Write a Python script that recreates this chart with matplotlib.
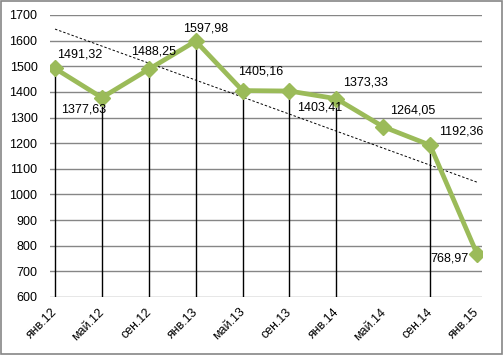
import matplotlib
matplotlib.use('Agg')
import matplotlib.pyplot as plt
import matplotlib.transforms as mtransforms
from matplotlib.patches import Rectangle
import numpy as np

plt.rcParams['font.family'] = ['Liberation Sans', 'DejaVu Sans']

months = ['янв.12', 'май.12', 'сен.12', 'янв.13', 'май.13',
          'сен.13', 'янв.14', 'май.14', 'сен.14', 'янв.15']
values = [1491.32, 1377.63, 1488.25, 1597.98, 1405.16,
          1403.41, 1373.33, 1264.05, 1192.36, 768.97]
labels = ['1491,32', '1377,63', '1488,25', '1597,98', '1405,16',
          '1403,41', '1373,33', '1264,05', '1192,36', '768,97']
# trend line values at first and last month
trend_ends = [1645, 1048]
# months that have a drop line in the original
has_drop = [True, True, True, True, True, True, True, False, True, False]

# label offsets in pixels (dx, dy)
offsets = [(25, 14), (-18, -12), (5, 18), (10, 13), (18, 19),
           (30, -16), (29, 16), (30, 16), (31, 14), (-27, -5)]

fig = plt.figure(figsize=(5.04, 3.55), dpi=100)
ax = fig.add_axes([0.0992, 0.1634, 0.858, 0.7944])

x = np.arange(len(months))

ax.set_ylim(600, 1700)
ax.set_xlim(-0.107, 9.117)
ax.set_yticks(np.arange(600, 1701, 100))
ax.yaxis.grid(True, color='#868686', linewidth=1)
ax.set_axisbelow(True)
for s in ax.spines.values():
    s.set_visible(False)

dx = [xi for xi, d in zip(x, has_drop) if d]
dv = [v for v, d in zip(values, has_drop) if d]
ax.vlines(dx, 600, dv, color='black', linewidth=1, zorder=2)

ax.plot([x[0], x[-1]], trend_ends, color='black', linewidth=0.7,
        linestyle=(0, (2.5, 2)), zorder=3)

ax.plot(x, values, color='#9BBB59', linewidth=3.4, marker='D', markersize=8.5,
        markerfacecolor='#9BBB59', markeredgecolor='#9BBB59', zorder=4)

for xi, v, lab, (ox, oy) in zip(x, values, labels, offsets):
    ax.annotate(lab, (xi, v), xytext=(ox, oy), textcoords='offset pixels',
                ha='center', va='center', fontsize=9, color='black', zorder=5)

ax.set_xticks(x)
ax.set_xticklabels(months, rotation=45, ha='right', va='top', fontsize=9)
ax.tick_params(axis='x', length=0, pad=5)
ax.tick_params(axis='y', length=0, pad=9, labelsize=9)
shift = mtransforms.ScaledTranslation(5 / 100, -2 / 100, fig.dpi_scale_trans)
for t in ax.get_xticklabels():
    t.set_transform(t.get_transform() + shift)

fig.add_artist(Rectangle((0.002, 0.003), 0.995, 0.994, transform=fig.transFigure,
                         fill=False, edgecolor='#868686', linewidth=1.2))

fig.savefig('out.png', dpi=100)
